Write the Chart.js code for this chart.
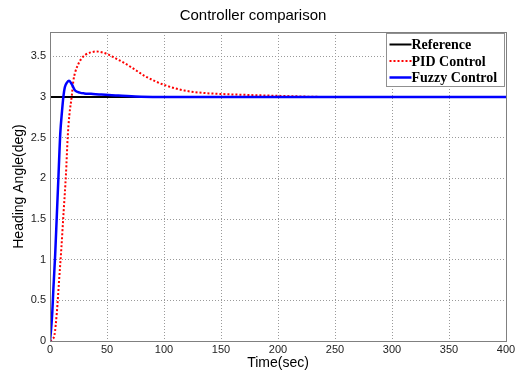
<!DOCTYPE html>
<html>
<head>
<meta charset="utf-8">
<script src="https://cdn.jsdelivr.net/npm/chart.js@4/dist/chart.umd.min.js"></script>
<style>
  html, body { margin: 0; padding: 0; background: #fff; }
  #wrap { width: 522px; height: 370px; }
</style>
</head>
<body>
<div id="wrap"><canvas id="chart"></canvas></div>
<script>
// --- data ---
const refTime = [0, 400];
const refValues = [3, 3];

const pidTime = [0, 2, 4, 6, 8, 10, 12, 14, 15.5, 17, 19, 20.5, 22, 25, 28, 31, 36, 41, 50, 57, 65, 72, 83, 100, 118, 135, 150, 171, 200, 250, 300, 400];
const pidValues = [0, 0.02, 0.08, 0.35, 0.75, 1.15, 1.6, 2.05, 2.5, 2.78, 3.0, 3.2, 3.3, 3.41, 3.48, 3.52, 3.55, 3.56, 3.53, 3.48, 3.42, 3.36, 3.26, 3.15, 3.08, 3.05, 3.038, 3.027, 3.015, 3.0, 3.0, 3.0];

const fuzzyTime = [0, 1, 2, 3, 4.5, 6, 7.5, 9, 10.5, 11.7, 13, 15, 16.7, 19, 22, 26, 30, 36, 45, 60, 80, 100, 150, 200, 300, 400];
const fuzzyValues = [0, 0.15, 0.35, 0.65, 1.05, 1.55, 2.05, 2.55, 2.82, 3.0, 3.12, 3.18, 3.2, 3.16, 3.08, 3.055, 3.045, 3.04, 3.03, 3.02, 3.005, 3.0, 3.0, 3.0, 3.0, 3.0];

const xTicks = [0, 50, 100, 150, 200, 250, 300, 350, 400];
const yTicks = [0, 0.5, 1, 1.5, 2, 2.5, 3, 3.5];

const toPoints = (xs, ys) => xs.map((x, i) => ({ x: x, y: ys[i] }));

// frame round the plot area, like matlab's box on
const boxPlugin = {
    id: 'box',
    afterDatasetsDraw(chart) {
        const { ctx, chartArea: a } = chart;
        ctx.save();
        ctx.strokeStyle = '#808080';
        ctx.lineWidth = 1;
        ctx.strokeRect(Math.round(a.left) + 0.5, Math.round(a.top) + 0.5,
            Math.round(a.right - a.left), Math.round(a.bottom - a.top));
        ctx.restore();
    }
};

// legend in the top right corner, inside the axes
const innerLegend = {
    id: 'innerLegend',
    afterDraw(chart) {
        const { ctx, chartArea: a } = chart;
        const sets = chart.data.datasets;
        const w = 118, rowH = 16.5, h = 53;
        const x0 = Math.round(a.right) - w - 1.5, y0 = Math.round(a.top) + 1.5;
        ctx.save();
        ctx.fillStyle = '#fff';
        ctx.fillRect(x0, y0, w, h);
        ctx.strokeStyle = '#909090';
        ctx.lineWidth = 1;
        ctx.strokeRect(x0, y0, w, h);
        ctx.font = 'bold 14px "Liberation Serif"';
        ctx.textBaseline = 'middle';
        sets.forEach((ds, i) => {
            const y = y0 + 11 + i * rowH;
            ctx.strokeStyle = ds.borderColor;
            ctx.lineWidth = ds.borderWidth;
            ctx.setLineDash(ds.borderDash || []);
            ctx.beginPath();
            ctx.moveTo(x0 + 3, y);
            ctx.lineTo(x0 + 25, y);
            ctx.stroke();
            ctx.setLineDash([]);
            ctx.fillStyle = '#000';
            ctx.fillText(ds.label, x0 + 25, y + 1);
        });
        ctx.restore();
    }
};

const gridOpts = {
    color: '#9a9a9a',
    lineWidth: 1,
    drawTicks: false
};

const tickFont = { family: '"Liberation Sans"', size: 11 };

new Chart(document.getElementById('chart'), {
    type: 'line',
    data: {
        datasets: [{
            label: 'Reference',
            data: toPoints(refTime, refValues),
            borderColor: '#000000',
            borderWidth: 2,
            order: 2
        }, {
            label: 'PID Control',
            data: toPoints(pidTime, pidValues),
            borderColor: '#ff0000',
            borderWidth: 2,
            borderDash: [2, 2],
            cubicInterpolationMode: 'monotone',
            order: 1
        }, {
            label: 'Fuzzy Control',
            data: toPoints(fuzzyTime, fuzzyValues),
            borderColor: '#0000ff',
            borderWidth: 2.5,
            cubicInterpolationMode: 'monotone',
            order: 0
        }]
    },
    options: {
        responsive: true,
        maintainAspectRatio: false,
        animation: false,
        elements: { point: { radius: 0 } },
        layout: { padding: { left: 0, right: 16, top: 0, bottom: 0 } },
        scales: {
            x: {
                type: 'linear',
                min: 0,
                max: 400,
                afterBuildTicks: s => { s.ticks = xTicks.map(v => ({ value: v })); },
                afterFit: s => { s.height = 29; },
                grid: gridOpts,
                border: { display: false, dash: [1, 2] },
                ticks: {
                    padding: 2,
                    color: '#222',
                    maxRotation: 0,
                    font: tickFont,
                    callback: v => String(v)
                },
                title: {
                    display: true,
                    text: 'Time(sec)',
                    color: '#000',
                    font: { family: '"Liberation Sans"', size: 14, lineHeight: 1 },
                    padding: { top: 0, bottom: 0 }
                }
            },
            y: {
                min: 0,
                max: 3.8,
                afterBuildTicks: s => { s.ticks = yTicks.map(v => ({ value: v })); },
                afterFit: s => { s.width = 50; },
                grid: gridOpts,
                border: { display: false, dash: [1, 2] },
                ticks: {
                    padding: 4,
                    color: '#222',
                    font: tickFont,
                    callback: v => String(v)
                },
                title: {
                    display: true,
                    text: 'Heading Angle(deg)',
                    color: '#000',
                    font: { family: '"Liberation Sans"', size: 14 },
                    padding: { top: 11, bottom: 0 }
                }
            }
        },
        plugins: {
            legend: { display: false },
            tooltip: { enabled: false },
            title: {
                display: true,
                text: 'Controller comparison',
                color: '#000',
                font: { family: '"Liberation Sans"', size: 15, weight: 'normal' },
                padding: { top: 7, bottom: 7 }
            }
        }
    },
    plugins: [boxPlugin, innerLegend]
});
</script>
</body>
</html>
